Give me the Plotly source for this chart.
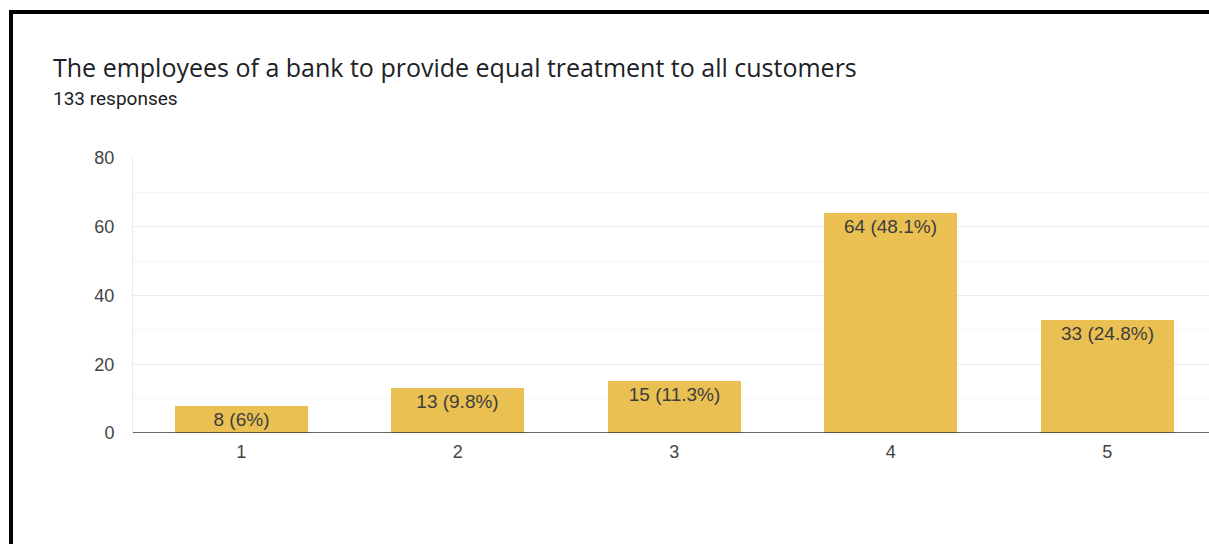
import plotly.graph_objects as go

# Survey results: rating scale 1-5
categories = ["1", "2", "3", "4", "5"]
counts = [8, 13, 15, 64, 33]
percents = ["6%", "9.8%", "11.3%", "48.1%", "24.8%"]
y_ticks = [0, 20, 40, 60, 80]

title_text = "The employees of a bank to provide equal treatment to all customers"
subtitle_text = "133 responses"

W, H = 1209, 544
ML, MT, MB = 133, 158, 111
PW, PH = W - ML, H - MT - MB


def px_x(x):
    return (x - ML) / PW


def px_y(y):
    return (H - MB - y) / PH


labels = [f"{c} ({p})" for c, p in zip(counts, percents)]

fig = go.Figure(
    go.Bar(
        x=list(range(1, len(categories) + 1)),
        y=counts,
        width=0.615,
        marker=dict(color="#EBC053", line=dict(width=0)),
        text=labels,
        textposition="inside",
        insidetextanchor="end",
        textangle=0,
        textfont=dict(family="Liberation Sans, Arial", size=19, color="#3d3d3d"),
        hoverinfo="skip",
    )
)

fig.update_layout(
    width=W,
    height=H,
    margin=dict(l=ML, r=0, t=MT, b=MB),
    paper_bgcolor="white",
    plot_bgcolor="white",
    showlegend=False,
    bargap=0,
    uniformtext=dict(mode=False),
    xaxis=dict(
        range=[0.5, 0.5 + PW / 216.5],
        tickvals=list(range(1, len(categories) + 1)),
        ticktext=categories,
        showgrid=False,
        zeroline=False,
        showline=False,
        ticks="",
        ticklabelstandoff=6,
        tickfont=dict(family="Liberation Sans, Arial", size=18, color="#444444"),
        fixedrange=True,
    ),
    yaxis=dict(
        range=[0, 80],
        tickvals=y_ticks,
        showgrid=True,
        gridcolor="#ebebeb",
        gridwidth=1,
        zeroline=False,
        showline=True,
        linecolor="#ebebeb",
        linewidth=1,
        mirror=False,
        ticks="",
        ticklabelstandoff=14,
        tickfont=dict(family="Liberation Sans, Arial", size=18, color="#444444"),
        minor=dict(dtick=10, showgrid=True, gridcolor="#f5f5f5", gridwidth=1),
        fixedrange=True,
    ),
    shapes=[
        # baseline at zero
        dict(type="line", xref="paper", yref="y", x0=0, x1=1, y0=0, y1=0,
             line=dict(color="#333333", width=1.5), layer="above"),
        # black frame along the top and left of the page
        dict(type="rect", xref="paper", yref="paper",
             x0=px_x(9), x1=px_x(W + 5), y0=px_y(10), y1=px_y(14),
             fillcolor="black", line=dict(width=0), layer="above"),
        dict(type="rect", xref="paper", yref="paper",
             x0=px_x(9), x1=px_x(13), y0=px_y(10), y1=px_y(H + 5),
             fillcolor="black", line=dict(width=0), layer="above"),
    ],
    annotations=[
        dict(text=title_text, xref="paper", yref="paper",
             x=px_x(51), y=px_y(67), xanchor="left", yanchor="middle",
             showarrow=False,
             font=dict(family="Open Sans", size=25, color="#202124")),
        dict(text=subtitle_text, xref="paper", yref="paper",
             x=px_x(51), y=px_y(99), xanchor="left", yanchor="middle",
             showarrow=False,
             font=dict(family="Roboto", size=19, color="#202124")),
    ],
)

fig.write_html("out.html", config=dict(displayModeBar=False))
